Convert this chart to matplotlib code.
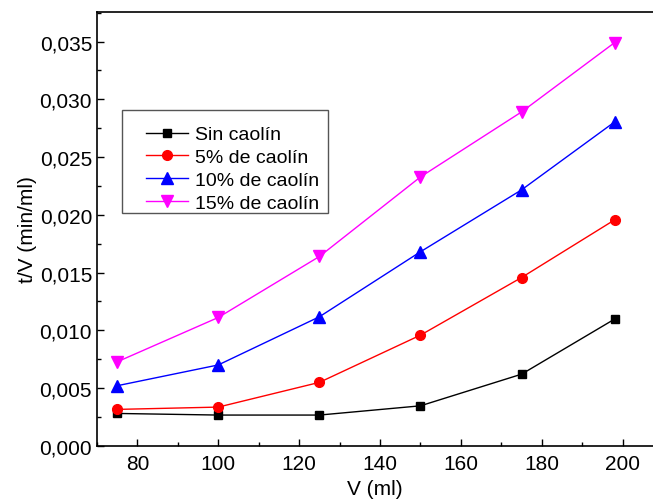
import matplotlib.pyplot as plt
from matplotlib.patches import Rectangle
from matplotlib.ticker import MultipleLocator, FuncFormatter

plt.rcParams['font.family'] = ['Liberation Sans', 'DejaVu Sans']

# volumen filtrado (ml)
V = [75, 100, 125, 150, 175, 198]

# t/V (min/ml) para cada serie
sin_caolin = [0.0028, 0.00266, 0.00266, 0.00346, 0.0062, 0.01097]
caolin_5 = [0.00315, 0.00335, 0.00549, 0.00958, 0.01457, 0.01956]
caolin_10 = [0.0052, 0.0070, 0.01117, 0.0168, 0.02216, 0.02804]
caolin_15 = [0.00727, 0.01111, 0.01639, 0.02328, 0.02891, 0.03491]

W, H = 653, 502
fig = plt.figure(figsize=(W / 100, H / 100), dpi=100)
ax = fig.add_axes([0.1485, 0.110, 0.8515, 0.865])

ax.plot(V, sin_caolin, color='black', marker='s', markersize=6, lw=1, label='Sin caolín')
ax.plot(V, caolin_5, color='red', marker='o', markersize=7, lw=1, label='5% de caolín')
ax.plot(V, caolin_10, color='blue', marker='^', markersize=8, lw=1, label='10% de caolín')
ax.plot(V, caolin_15, color='magenta', marker='v', markersize=8, lw=1, label='15% de caolín')

ax.set_xlim(70, 207.5)
ax.set_ylim(0, 0.0376)

ax.xaxis.set_major_locator(MultipleLocator(20))
ax.xaxis.set_minor_locator(MultipleLocator(10))
ax.yaxis.set_major_locator(MultipleLocator(0.005))
ax.yaxis.set_minor_locator(MultipleLocator(0.0025))
ax.yaxis.set_major_formatter(FuncFormatter(lambda v, p: f'{v:.3f}'.replace('.', ',')))

ax.tick_params(which='both', direction='in', labelsize=15, top=False, right=False)
ax.tick_params(which='major', length=5, width=1)
ax.tick_params(which='minor', length=3, width=1)
ax.tick_params(axis='x', pad=6)

ax.spines['right'].set_visible(False)
for s in ['left', 'bottom', 'top']:
    ax.spines[s].set_linewidth(1.2)

ax.set_xlabel('V (ml)', fontsize=15, labelpad=4)
ax.set_ylabel('t/V (min/ml)', fontsize=15, labelpad=2)

# marco de la leyenda (en pixeles de la figura)
marco = Rectangle((122.3 / W, 1 - 214.3 / H), 206 / W, 103.3 / H,
                  transform=fig.transFigure, facecolor='white', edgecolor='#555555',
                  lw=1, zorder=4, clip_on=False)
ax.add_patch(marco)

leg = ax.legend(loc='upper left', bbox_to_anchor=(145.7 / W, 1 - 126.8 / H),
                bbox_transform=fig.transFigure, borderaxespad=0, borderpad=0,
                fontsize=14, frameon=False, handlelength=2.19,
                labelspacing=0.27, handletextpad=0.34)
leg.set_zorder(5)

fig.savefig('out.png', dpi=100)
